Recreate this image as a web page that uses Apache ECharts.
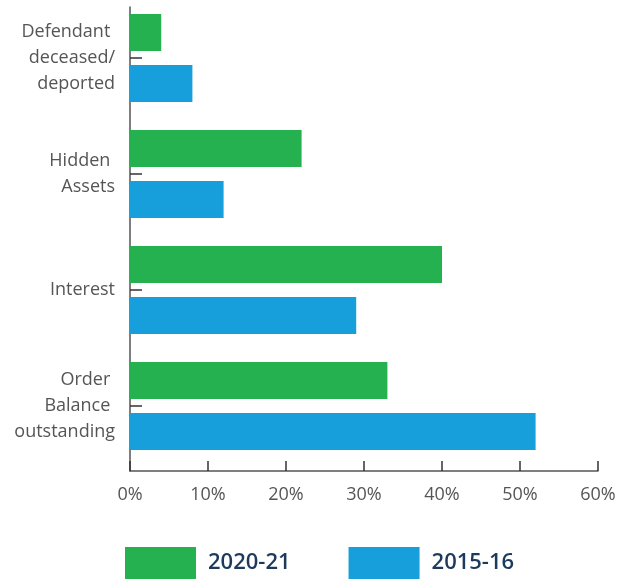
<!DOCTYPE html>
<html>
<head>
<meta charset="utf-8">
<script src="https://cdn.jsdelivr.net/npm/echarts@6/dist/echarts.min.js"></script>
<style>
html,body{margin:0;padding:0;background:#fff;}
#main{width:626px;height:579px;}
</style>
</head>
<body>
<div id="main"></div>
<script>
var categories=['Defendant \ndeceased/\ndeported','Hidden \nAssets','Interest','Order \nBalance \noutstanding'];
var seriesNames=['2020-21','2015-16'];
var values2021=[4,22,40,33];
var values2016=[8,12,29,52];
var xTicks=[0,10,20,30,40,50,60];

var myChart=echarts.init(document.getElementById('main'));
var font='"Open Sans", sans-serif';

var option={
  animation:false,
  legend:{
    data:seriesNames,
    top:547,
    left:125,
    padding:0,
    itemWidth:71,
    itemHeight:32,
    itemGap:58,
    icon:'rect',
    textStyle:{fontFamily:font,fontSize:22,fontWeight:600,color:'#1d3a5c',padding:[0,0,0,7]}
  },
  grid:[
    {left:130,right:28,top:-2,height:466},
    {left:130,right:28,top:7,height:464}
  ],
  xAxis:[
    {gridIndex:0,type:'value',min:xTicks[0],max:xTicks[xTicks.length-1],interval:10,show:false},
    {gridIndex:1,type:'value',min:xTicks[0],max:xTicks[xTicks.length-1],interval:10,
      axisLine:{show:true,lineStyle:{color:'#555',width:1.5}},
      axisTick:{show:true,inside:true,length:10,lineStyle:{color:'#333',width:1.5}},
      axisLabel:{margin:15,fontFamily:font,fontSize:18,color:'#555',formatter:'{value}%'},
      splitLine:{show:false}}
  ],
  yAxis:[
    {gridIndex:0,type:'category',data:categories,inverse:true,
      axisLine:{show:false},
      axisTick:{show:true,inside:true,alignWithLabel:true,length:12,lineStyle:{color:'#333',width:1.5}},
      axisLabel:{margin:15,fontFamily:font,fontSize:18,color:'#555',lineHeight:26,align:'right'}},
    {gridIndex:1,type:'value',min:0,max:1,
      axisLine:{show:true,lineStyle:{color:'#555',width:1.5}},
      axisTick:{show:false},axisLabel:{show:false},splitLine:{show:false}}
  ],
  series:[
    {name:seriesNames[0],type:'bar',xAxisIndex:0,yAxisIndex:0,data:values2021,
      barWidth:37,barGap:'38%',itemStyle:{color:'#25b14f'}},
    {name:seriesNames[1],type:'bar',xAxisIndex:0,yAxisIndex:0,data:values2016,
      barWidth:37,barGap:'38%',itemStyle:{color:'#169fda'}}
  ]
};

myChart.setOption(option);
</script>
</body>
</html>
